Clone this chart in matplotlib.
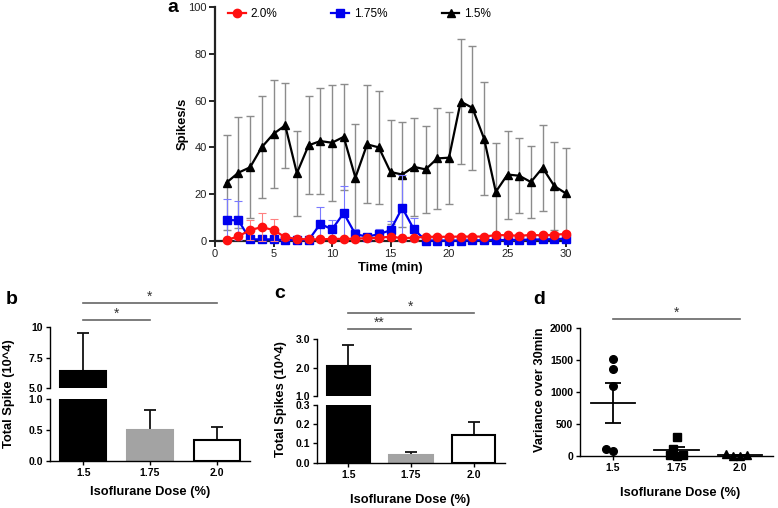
import numpy as np
import matplotlib
matplotlib.use("Agg")
import matplotlib.pyplot as plt
from matplotlib.lines import Line2D

plt.rcParams['font.family'] = ['Liberation Sans', 'DejaVu Sans']

# ---- panel a: spikes/s over time ----
minutes = np.arange(1, 31)
iso15_mean = [25.0, 29.2, 31.5, 40.1, 45.8, 49.4, 29.0, 40.9, 42.7, 42.0,
              44.5, 27.1, 41.3, 40.0, 29.5, 28.4, 31.7, 30.6, 35.3, 35.6,
              59.6, 56.9, 43.7, 21.0, 28.4, 27.9, 25.2, 31.3, 23.5, 20.3]
iso15_sd = [20.2, 23.7, 21.8, 21.7, 23.0, 18.3, 18.2, 21.0, 22.8, 24.7,
            22.8, 22.8, 25.2, 24.2, 22.3, 22.4, 21.0, 18.6, 21.7, 19.7,
            26.6, 26.4, 24.2, 20.8, 18.8, 16.0, 15.2, 18.3, 18.8, 19.6]
iso175_mean = [9.0, 8.8, 0.7, 0.7, 0.7, 0.4, 0.4, 0.4, 7.3, 5.0,
               11.9, 2.9, 1.9, 2.9, 4.6, 14.2, 5.0, 0.2, 0.2, 0.2,
               0.2, 0.3, 0.3, 0.4, 0.4, 0.5, 0.6, 0.7, 0.8, 1.0]
iso175_sd = [9.0, 8.3, 0.5, 0.5, 0.5, 0.3, 0.3, 0.3, 7.1, 4.0,
             11.6, 2.1, 1.0, 2.4, 3.9, 14.0, 4.8, 0.2, 0.2, 0.2,
             0.2, 0.2, 0.2, 0.3, 0.3, 0.3, 0.3, 0.4, 0.4, 0.5]
iso20_mean = [0.4, 2.0, 4.7, 5.9, 4.7, 1.6, 0.9, 0.7, 0.7, 0.9,
              0.9, 1.0, 1.2, 1.3, 1.9, 1.2, 1.4, 1.8, 1.8, 1.8,
              1.9, 1.9, 1.9, 2.5, 2.5, 2.2, 2.6, 2.4, 2.7, 3.0]
iso20_sd = [0.3, 1.0, 4.3, 6.1, 4.7, 1.0, 0.5, 0.4, 0.4, 0.5,
            0.5, 0.5, 0.6, 0.6, 0.8, 0.6, 0.6, 0.7, 0.7, 0.7,
            0.7, 0.7, 0.7, 0.9, 0.9, 0.8, 0.9, 0.9, 1.0, 1.0]

# ---- panels b, c: total spikes (10^4) ----
doses = ['1.5', '1.75', '2.0']
b_mean = [6.45, 0.50, 0.34]
b_err = [3.05, 0.33, 0.21]
c_mean = [2.06, 0.040, 0.144]
c_err = [0.74, 0.017, 0.066]

# ---- panel d: variance over 30 min ----
d_15 = [1506, 1361, 1091, 104, 78]
d_175 = [301, 114, 5, 8, 10]
d_20 = [3, 5, 8, 31]

bar_colors = ['black', '#a3a3a3', 'white']
bar_edges = ['black', '#a3a3a3', 'black']
W, H = 778, 508
LAB = 9.3     # axis label size
TICK = 7.5    # bold tick labels in b-d
fig = plt.figure(figsize=(W / 100, H / 100), dpi=100)


def fbox(left, top, right, bottom):
    # pixel box -> figure fraction [l, b, w, h]
    return [left / W, 1 - bottom / H, (right - left) / W, (bottom - top) / H]


def style(ax, lw=1.0):
    for s in ['top', 'right']:
        ax.spines[s].set_visible(False)
    for s in ['left', 'bottom']:
        ax.spines[s].set_linewidth(lw)
    ax.tick_params(width=lw, length=3, labelsize=TICK, pad=2)
    for lab in ax.get_xticklabels() + ax.get_yticklabels():
        lab.set_fontweight('bold')


def label(x, y, txt, rot=0, size=LAB):
    fig.text(x / W, 1 - y / H, txt, rotation=rot, ha='center', va='center',
             fontsize=size, fontweight='bold')


# ================= panel a =================
ax = fig.add_axes(fbox(215, 7, 566, 241))
series = [(iso15_mean, iso15_sd, 'black', '^', 5.5, '#8c8c8c', 1.0),
          (iso175_mean, iso175_sd, '#0000ee', 's', 5.5, '#7a7aff', 0.8),
          (iso20_mean, iso20_sd, '#ff1010', 'o', 6, '#ff8080', 0.8)]
for z, (m, sd, col, mk, ms, ecol, elw) in enumerate(series):
    cont = ax.errorbar(minutes, m, yerr=sd, color=col, marker=mk, ms=ms, lw=1.6,
                       ecolor=ecol, elinewidth=elw, capsize=3, capthick=elw, zorder=3 + z)
    for art in cont.get_children():
        art.set_clip_on(False)
ax.set_xlim(0, 30)
ax.set_ylim(0, 100)
ax.set_xticks([0, 5, 10, 15, 20, 25, 30])
ax.set_yticks([0, 20, 40, 60, 80, 100])
for s in ['top', 'right']:
    ax.spines[s].set_visible(False)
for s in ['left', 'bottom']:
    ax.spines[s].set_linewidth(1.6)
    ax.spines[s].set_color('#222222')
ax.tick_params(width=1.2, length=4, labelsize=8, pad=2, labelcolor='#222222')
handles = [Line2D([], [], color='#ff1010', marker='o', ms=6, lw=1.6),
           Line2D([], [], color='#0000ee', marker='s', ms=5.5, lw=1.6),
           Line2D([], [], color='black', marker='^', ms=5.5, lw=1.6)]
ax.legend(handles, ['2.0%', '1.75%', '1.5%'], loc='upper left', ncol=3,
          bbox_to_anchor=(228 / W, 1 - 8 / H), bbox_transform=fig.transFigure,
          frameon=False, fontsize=8.5, handlelength=1.5, handletextpad=0.4,
          columnspacing=4.6, borderpad=0, borderaxespad=0)
label(183, 124, 'Spikes/s', rot=90)
label(390, 268, 'Time (min)')
label(173, 8, 'a', size=14)


def broken_bars(box_low, box_high, ylim_low, ylim_high, yt_low, yt_high,
                means, errs, ytl_low, ytl_high):
    x = np.arange(len(doses))
    lo = fig.add_axes(box_low)
    hi = fig.add_axes(box_high)
    for a in (lo, hi):
        a.bar(x, means, width=0.69, color=bar_colors, edgecolor=bar_edges, linewidth=1.5,
              zorder=2)
        a.errorbar(x, means, yerr=[np.zeros(len(x)), errs], fmt='none', ecolor='#111111',
                   elinewidth=1.3, capsize=4, capthick=1.3, zorder=1)
        a.set_xlim(-0.5, 2.5)
    lo.set_ylim(*ylim_low)
    hi.set_ylim(*ylim_high)
    lo.set_yticks(yt_low)
    lo.set_yticklabels(ytl_low)
    hi.set_yticks(yt_high)
    hi.set_yticklabels(ytl_high)
    lo.set_xticks(x)
    lo.set_xticklabels(doses)
    style(lo)
    style(hi)
    hi.spines['bottom'].set_visible(False)
    hi.set_xticks([])
    return lo, hi


def sig(a, x0, x1, y, txt, dy):
    a.plot([x0, x1], [y, y], color='#666666', lw=1.2, clip_on=False)
    a.text((x0 + x1) / 2, y + dy, txt, ha='center', va='bottom', fontsize=10,
           color='#333333', clip_on=False)


# ================= panel b =================
lo, hi = broken_bars(fbox(50, 399.3, 250, 460.7), fbox(50, 327.3, 250, 388.3),
                     (0, 1.0), (5, 10), [0, 0.5, 1.0], [5, 7.5, 10],
                     b_mean, b_err, ['0.0', '0.5', '1.0'], ['5.0', '7.5', '10'])
sig(hi, 0, 1, 10.6, '*', -0.05)
sig(hi, 0, 2, 12.0, '*', -0.05)
label(9, 394, 'Total Spike (10^4)', rot=90)
label(150, 492, 'Isoflurane Dose (%)')
label(12, 299, 'b', size=14)

# ================= panel c =================
lo, hi = broken_bars(fbox(317, 405, 505, 462.7), fbox(317, 339, 505, 396),
                     (0, 0.3), (1, 3), [0, 0.1, 0.2, 0.3], [1.0, 2.0, 3.0],
                     c_mean, c_err, ['0.0', '0.1', '0.2', '0.3'], ['1.0', '2.0', '3.0'])
sig(hi, 0, 1, 3.35, '**', -0.03)
sig(hi, 0, 2, 3.92, '*', -0.03)
label(281, 399, 'Total Spikes (10^4)', rot=90)
label(410, 500, 'Isoflurane Dose (%)')
label(280, 293, 'c', size=14)


# ================= panel d =================
def swarm(vals, px_per_unit, diam=7.0):
    # simple beeswarm: offsets in pixels, placed lowest value first
    order = np.argsort(vals)
    placed = []
    offs = np.zeros(len(vals))
    for i in order:
        y = vals[i] * px_per_unit
        k = 0
        while True:
            cands = [0.0] if k == 0 else [-k * diam, k * diam]
            ok = None
            for c in cands:
                if all((c - ox) ** 2 + (y - oy) ** 2 >= diam ** 2 for ox, oy in placed):
                    ok = c
                    break
            if ok is not None:
                offs[i] = ok
                placed.append((ok, y))
                break
            k += 0.5
    return offs


ax = fig.add_axes(fbox(580, 327.7, 773, 456))
cat_px = 63.5
val_px = 128.3 / 2000
for i, (vals, mk) in enumerate([(d_15, 'o'), (d_175, 's'), (d_20, '^')]):
    vals = np.array(vals, dtype=float)
    xo = i + swarm(vals, val_px) / cat_px
    ax.plot(xo, vals, linestyle='none', marker=mk, color='black', ms=5.5, clip_on=False,
            zorder=3)
    m = vals.mean()
    sem = vals.std(ddof=1) / np.sqrt(len(vals))
    ax.plot([i - 0.35, i + 0.35], [m, m], color='black', lw=1.3)
    ax.errorbar([i], [m], yerr=[[sem], [sem]], fmt='none', ecolor='black',
                elinewidth=1.3, capsize=6, capthick=1.3)
ax.set_xlim(-0.52, 2.52)
ax.set_ylim(0, 2000)
ax.set_yticks([0, 500, 1000, 1500, 2000])
ax.set_xticks([0, 1, 2])
ax.set_xticklabels(doses)
style(ax)
sig(ax, 0, 2, 2136, '*', -10)
label(540, 390, 'Variance over 30min', rot=90)
label(680, 493, 'Isoflurane Dose (%)')
label(539, 300, 'd', size=14)

fig.savefig('out.png', dpi=100)
